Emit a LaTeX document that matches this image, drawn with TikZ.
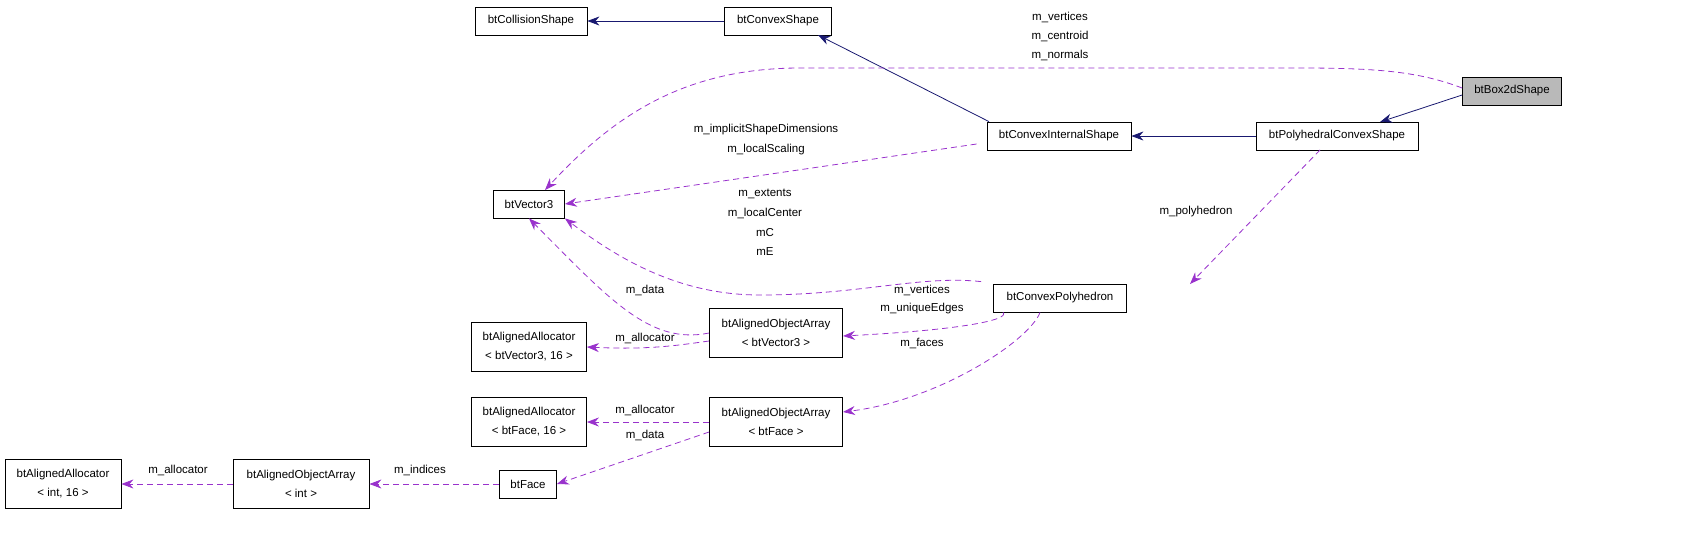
\documentclass[tikz,border=0pt]{standalone}
\usepackage{fontspec}
\setmainfont{Liberation Sans}
\usetikzlibrary{arrows.meta}
\definecolor{inh}{RGB}{25,25,112}
\definecolor{use}{RGB}{153,50,204}
\begin{document}
\begin{tikzpicture}[x=1pt,y=-1pt,
  box/.style={draw,thick,fill=white,minimum height=28pt,inner xsep=4pt,font=\fontsize{11.5}{19}\selectfont,align=center},
  box2/.style={box,minimum height=49pt},
  inhr/.style={draw=inh,thick,-{Stealth[length=12pt,width=9pt]}},
  dep/.style={draw=use,thick,dashed,dash pattern=on 6pt off 4pt,-{Stealth[length=12pt,width=9pt]}},
  lab/.style={font=\fontsize{11.5}{13}\selectfont}]
\useasboundingbox (0,0) rectangle (1704,557);
\node[box,minimum width=112pt] (cs) at (531,21) {btCollisionShape};
\node[box,minimum width=107pt] (cvx) at (778,21) {btConvexShape};
\node[box,minimum width=99pt,fill=gray!55] (b2d) at (1512,91) {btBox2dShape};
\node[box,minimum width=144pt] (cis) at (1059,136) {btConvexInternalShape};
\node[box,minimum width=162pt] (pcs) at (1337,136) {btPolyhedralConvexShape};
\node[box,minimum width=71pt] (v3) at (529,204) {btVector3};
\node[box,minimum width=133pt] (cp) at (1060,298) {btConvexPolyhedron};
\node[box2,minimum width=133pt] (aov) at (776,333) {btAlignedObjectArray\\< btVector3 >};
\node[box2,minimum width=115pt] (alv) at (529,347) {btAlignedAllocator\\< btVector3, 16 >};
\node[box2,minimum width=115pt] (alf) at (529,422) {btAlignedAllocator\\< btFace, 16 >};
\node[box2,minimum width=133pt] (aof) at (776,422) {btAlignedObjectArray\\< btFace >};
\node[box,minimum width=57pt] (face) at (528,484) {btFace};
\node[box2,minimum width=136pt] (aoi) at (301,484) {btAlignedObjectArray\\< int >};
\node[box2,minimum width=116pt] (ali) at (63,484) {btAlignedAllocator\\< int, 16 >};

\draw[inhr] (cvx) -- (cs);
\draw[inhr] (cis.north) ++(-70,0) -- (818,35);
\draw[inhr] (pcs) -- (cis);
\draw[inhr] (b2d.west) ++(0,4) -- (1380,122);

\draw[dep] (b2d.west) ++(0,-3) .. controls (1420,72) and (1380,68) .. (1300,68)
  -- (800,68) .. controls (680,68) and (610,120) .. (545,190);
\node[lab] (l1) at (1060,17) {m\_vertices};
\node[lab] (l2) at (1060,36) {m\_centroid};
\node[lab] (l3) at (1060,55) {m\_normals};

\draw[dep] (cis.west) ++(-10,8) -- (v3.east);
\node[lab] (l4) at (766,130) {m\_implicitShapeDimensions};
\node[lab] (l5) at (766,150) {m\_localScaling};

\draw[dep] (1320,150) -- (1190,284);
\node[lab] (l6) at (1196,212) {m\_polyhedron};

\draw[dep] (cp.north west) ++(-12,-2) .. controls (920,275) and (860,295) .. (760,295)
  .. controls (680,295) and (620,260) .. (v3.south east);
\node[lab] (l7) at (765,194) {m\_extents};
\node[lab] (l8) at (765,213) {m\_localCenter};
\node[lab] (l9) at (765,233) {mC};
\node[lab] (l10) at (765,252) {mE};

\draw[dep] (aov.west) .. controls (650,345) and (610,300) .. (v3.south);
\node[lab] (l11) at (645,290) {m\_data};

\draw[dep] (cp.south west) ++(10,0) .. controls (1010,320) and (960,330) .. (843,336);
\node[lab] (l12) at (922,290) {m\_vertices};
\node[lab] (l13) at (922,309) {m\_uniqueEdges};

\draw[dep] (cp.south) ++(-20,0) .. controls (1030,340) and (940,400) .. (843,412);
\node[lab] (l14) at (922,343) {m\_faces};

\draw[dep] (aov.west) ++(0,8) .. controls (680,345) and (650,350) .. (alv.east);
\node[lab] (l15) at (645,338) {m\_allocator};

\draw[dep] (aof.west) -- (alf.east);
\node[lab] (l16) at (645,410) {m\_allocator};

\draw[dep] (aof.west) ++(0,10) -- (face.east);
\node[lab] (l17) at (645,435) {m\_data};

\draw[dep] (face) -- (aoi);
\node[lab] (l18) at (420,470) {m\_indices};

\draw[dep] (aoi) -- (ali);
\node[lab] (l19) at (178,470) {m\_allocator};
\end{tikzpicture}
\end{document}
